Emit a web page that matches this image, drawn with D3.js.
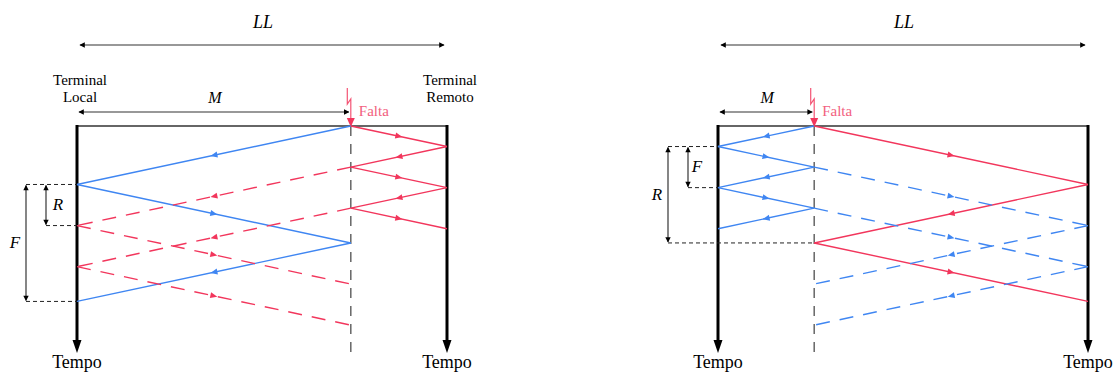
<!DOCTYPE html>
<html><head><meta charset="utf-8">
<script src="https://cdn.jsdelivr.net/npm/d3@7"></script>
<style>body{margin:0;background:#fff}svg{display:block}</style>
</head><body>
<svg id="chart" width="1118" height="376"></svg>
<script>
// Fault position along the line (fraction of LL) for each diagram
const faultLeft = 0.74;
const faultRight = 0.26;
// Time span drawn on the vertical axes (in units of full-line transit time)
const timeEnd = 2.86;

// Travelling-wave paths, vertices as [position, time]
const leftBlueSolid = [[0.74, 0], [0, 0.74], [0.74, 1.48], [0, 2.22]];
const leftRedSolid = [[0.74, 0], [1, 0.26], [0.74, 0.52], [1, 0.78], [0.74, 1.04], [1, 1.30]];
const leftRedDashed = [
  [[0.74, 0.52], [0, 1.26], [0.74, 2.00]],
  [[0.74, 1.04], [0, 1.78], [0.74, 2.52]]
];
const rightBlueSolid = [[0.26, 0], [0, 0.26], [0.26, 0.52], [0, 0.78], [0.26, 1.04], [0, 1.30]];
const rightRedSolid = [[0.26, 0], [1, 0.74], [0.26, 1.48], [1, 2.22]];
const rightBlueDashed = [
  [[0.26, 0.52], [1, 1.26], [0.26, 2.00]],
  [[0.26, 1.04], [1, 1.78], [0.26, 2.52]]
];

// Time-difference brackets: [label, start time, end time]
const leftDims = [["R", 0.74, 1.26], ["F", 0.74, 2.22]];
const rightDims = [["F", 0.26, 0.78], ["R", 0.26, 1.48]];

// Texts
const lengthLabel = "LL";
const faultDistLabel = "M";
const faultLabel = "Falta";
const localLabel = ["Terminal", "Local"];
const remoteLabel = ["Terminal", "Remoto"];
const timeLabel = "Tempo";

const BLUE = "#3f86f2";
const RED = "#f2365c";
const FAULT_TXT = "#f2607e";
const SERIF = "'Liberation Serif', 'Times New Roman', serif";

const svg = d3.select("#chart");
const defs = svg.append("defs");

// small double-arrow heads for dimension lines
defs.append("marker")
  .attr("id", "dimHead").attr("viewBox", "0 -5 10 10")
  .attr("refX", 9).attr("refY", 0)
  .attr("markerWidth", 6).attr("markerHeight", 6)
  .attr("markerUnits", "userSpaceOnUse")
  .attr("orient", "auto-start-reverse")
  .append("path").attr("d", "M1,-4.5L10,0L1,4.5Z").attr("fill", "#000");

function drawPanel(cfg) {
  const g = svg.append("g");
  const x = d3.scaleLinear().domain([0, 1]).range([cfg.xLocal, cfg.xRemote]);
  const y = d3.scaleLinear().domain([0, timeEnd]).range([126, 352]);
  const xf = x(cfg.fault);

  // LL dimension
  g.append("line").attr("x1", x(0) + 3).attr("x2", x(1) - 3).attr("y1", 45).attr("y2", 45)
    .attr("stroke", "#333").attr("stroke-width", 1.2)
    .attr("marker-start", "url(#dimHead)").attr("marker-end", "url(#dimHead)");
  g.append("text").attr("x", x(0.5) + 1).attr("y", 28).attr("text-anchor", "middle")
    .attr("font-family", SERIF).attr("font-style", "italic").attr("font-size", 18)
    .text(lengthLabel);

  // M dimension
  g.append("line").attr("x1", x(0) + 2).attr("x2", xf - 2).attr("y1", 112).attr("y2", 112)
    .attr("stroke", "#333").attr("stroke-width", 1.2)
    .attr("marker-start", "url(#dimHead)").attr("marker-end", "url(#dimHead)");
  g.append("text").attr("x", (x(0) + xf) / 2 + 1).attr("y", 103).attr("text-anchor", "middle")
    .attr("font-family", SERIF).attr("font-style", "italic").attr("font-size", 16)
    .text(faultDistLabel);

  // terminal names
  if (cfg.terminals) {
    [[x(0) + 3, localLabel], [x(1) + 3, remoteLabel]].forEach(([tx, lines]) => {
      const t = g.append("text").attr("x", tx).attr("y", 85).attr("text-anchor", "middle")
        .attr("font-family", SERIF).attr("font-size", 15);
      lines.forEach((s, i) => t.append("tspan").attr("x", tx).attr("dy", i ? 16.5 : 0).text(s));
    });
  }

  // top line (t = 0)
  g.append("line").attr("x1", x(0)).attr("x2", x(1)).attr("y1", y(0)).attr("y2", y(0))
    .attr("stroke", "#666").attr("stroke-width", 2);

  // fault position (dashed vertical)
  g.append("line").attr("x1", xf).attr("x2", xf).attr("y1", y(0)).attr("y2", 352)
    .attr("stroke", "#666").attr("stroke-width", 1.5).attr("stroke-dasharray", "10,8");

  // terminal time axes
  [x(0), x(1)].forEach(tx => {
    g.append("line").attr("x1", tx).attr("x2", tx).attr("y1", y(0) - 1).attr("y2", 342)
      .attr("stroke", "#000").attr("stroke-width", 3);
    g.append("path").attr("d", `M${tx - 4.5},340L${tx + 4.5},340L${tx},353Z`).attr("fill", "#000");
    g.append("text").attr("x", tx).attr("y", 368).attr("text-anchor", "middle")
      .attr("font-family", SERIF).attr("font-size", 18).text(timeLabel);
  });

  // fault strike symbol
  const fx = xf;
  g.append("path")
    .attr("d", `M${fx - 3.5},88L${fx - 3.5},104L${fx},99L${fx},120`)
    .attr("fill", "none").attr("stroke", RED).attr("stroke-width", 1.2).attr("opacity", 0.85);
  g.append("path").attr("d", `M${fx - 4},118L${fx + 4},118L${fx},127Z`).attr("fill", RED);
  g.append("text").attr("x", fx + 8).attr("y", 116)
    .attr("font-family", SERIF).attr("font-size", 15).attr("fill", FAULT_TXT).text(faultLabel);

  // waves
  function wave(pts, color, dashed) {
    for (let i = 0; i < pts.length - 1; i++) {
      const [p0, t0] = pts[i], [p1, t1] = pts[i + 1];
      const X0 = x(p0), Y0 = y(t0), X1 = x(p1), Y1 = y(t1);
      g.append("line").attr("x1", X0).attr("y1", Y0).attr("x2", X1).attr("y2", Y1)
        .attr("stroke", color).attr("stroke-width", 1.4)
        .attr("stroke-dasharray", dashed ? "14,10" : null);
      const mx = (X0 + X1) / 2, my = (Y0 + Y1) / 2;
      const ang = Math.atan2(Y1 - Y0, X1 - X0) * 180 / Math.PI;
      g.append("path").attr("d", "M-3.5,-3L3.5,0L-3.5,3Z").attr("fill", color)
        .attr("transform", `translate(${mx},${my}) rotate(${ang})`);
    }
  }
  wave(cfg.blue, BLUE, false);
  wave(cfg.red, RED, false);
  cfg.dashed.forEach(d => wave(d, cfg.dashedColor, true));

  // time-difference brackets
  cfg.dims.forEach(([label, t0, t1], i) => {
    const dx = cfg.dimX[i];
    g.append("line").attr("x1", dx).attr("x2", dx).attr("y1", y(t0) + 1).attr("y2", y(t1) - 1)
      .attr("stroke", "#222").attr("stroke-width", 1.1)
      .attr("marker-start", "url(#dimHead)").attr("marker-end", "url(#dimHead)");
    g.append("line").attr("x1", dx).attr("x2", cfg.guideEnd[i]).attr("y1", y(t1)).attr("y2", y(t1))
      .attr("stroke", "#222").attr("stroke-width", 1).attr("stroke-dasharray", "4,3");
    g.append("text").attr("x", cfg.labelX[i]).attr("y", (y(t0) + y(t1)) / 2 + 5)
      .attr("text-anchor", "middle").attr("font-family", SERIF).attr("font-style", "italic")
      .attr("font-size", 17).text(label);
  });
  const top = cfg.dims[0][1];
  g.append("line").attr("x1", d3.min(cfg.dimX)).attr("x2", x(0)).attr("y1", y(top)).attr("y2", y(top))
    .attr("stroke", "#222").attr("stroke-width", 1).attr("stroke-dasharray", "4,3");
}

drawPanel({
  xLocal: 77, xRemote: 447, fault: faultLeft, terminals: true,
  blue: leftBlueSolid, red: leftRedSolid, dashed: leftRedDashed, dashedColor: RED,
  dims: leftDims, dimX: [46, 26], labelX: [58, 15], guideEnd: [77, 77]
});
drawPanel({
  xLocal: 718, xRemote: 1088, fault: faultRight, terminals: false,
  blue: rightBlueSolid, red: rightRedSolid, dashed: rightBlueDashed, dashedColor: BLUE,
  dims: rightDims, dimX: [688, 668], labelX: [697, 657], guideEnd: [718, 814]
});
</script>
</body></html>
